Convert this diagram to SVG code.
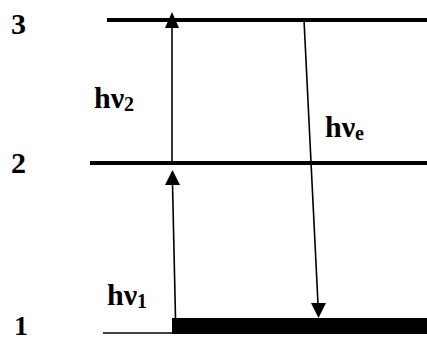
<svg xmlns="http://www.w3.org/2000/svg" width="427" height="342" viewBox="0 0 427 342">
<style>
.lvl{stroke:#000;stroke-width:4;fill:none}
.arr{stroke:#000;stroke-width:1.6;fill:none}
.head{fill:#000}
.num{font-family:"Liberation Serif","Times New Roman",serif;font-weight:bold;font-size:30px;fill:#000}
.lab{font-family:"Liberation Serif","Times New Roman",serif;font-weight:bold;font-size:30px;fill:#000}
.sub{font-size:20px}
</style>
<rect width="427" height="342" fill="#fff"/>
<g id="level3">
<line class="lvl" x1="107" y1="20" x2="427" y2="20"/>
<text class="num" x="11" y="34">3</text>
</g>
<g id="level2">
<line class="lvl" x1="90" y1="163" x2="427" y2="163"/>
<text class="num" x="11" y="173">2</text>
</g>
<g id="level1">
<line x1="103" y1="333" x2="173" y2="333" stroke="#000" stroke-width="1.5"/>
<rect x="172" y="318" width="255" height="16" fill="#000"/>
<text class="num" x="14" y="335" style="font-size:28px">1</text>
</g>
<g id="connectors">
<line class="arr" x1="175.5" y1="318" x2="172.5" y2="184"/>
<polygon class="head" points="172.5,170 165,185 180,185"/>
<line class="arr" x1="172" y1="163" x2="172" y2="27"/>
<polygon class="head" points="172,12 165,28 179,28"/>
<line class="arr" x1="304" y1="20" x2="318" y2="304"/>
<polygon class="head" points="318.5,318 311,303 326,303"/>
</g>
<g id="labels">
<text class="lab" x="94" y="108">hν<tspan class="sub" dy="3">2</tspan></text>
<text class="lab" x="107" y="305">hν<tspan class="sub" dy="3">1</tspan></text>
<text class="lab" x="325" y="137">hν<tspan class="sub" dy="3">e</tspan></text>
</g>
</svg>
